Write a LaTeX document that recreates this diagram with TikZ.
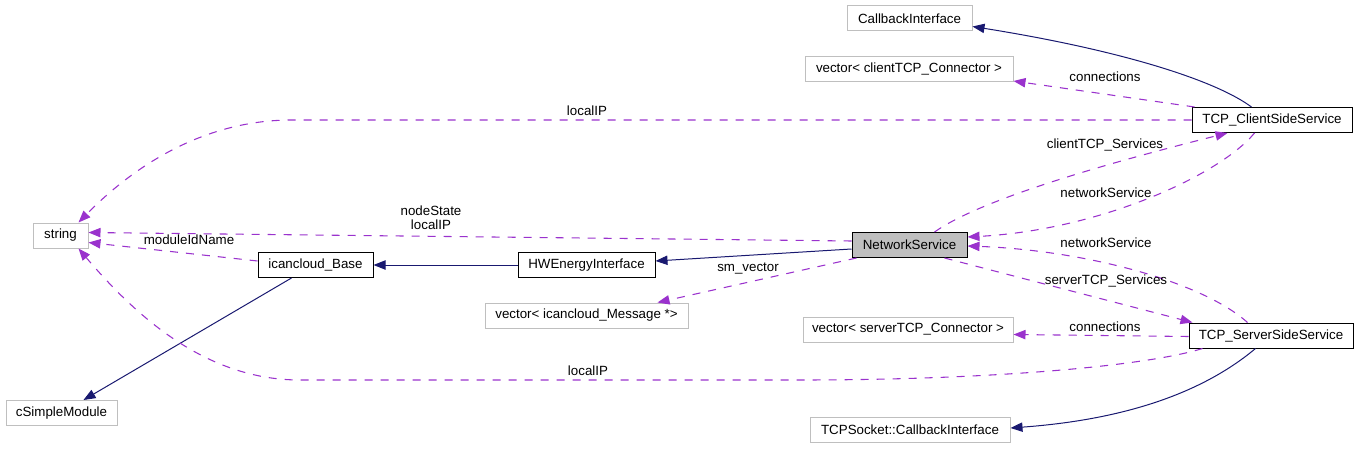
\documentclass[tikz,border=0pt]{standalone}
\usepackage{fontspec}
\setmainfont{Liberation Sans}
\usetikzlibrary{arrows.meta,calc}
\definecolor{navyc}{HTML}{191970}
\definecolor{purp}{HTML}{9A32CD}
\definecolor{greyb}{HTML}{BFBFBF}
\tikzset{
  box/.style={draw=black, line width=0.75pt, inner sep=0pt, minimum height=18.75pt, fill=white},
  extbox/.style={box, draw=greyb},
  inh/.style={draw=navyc, line width=0.75pt, -{Triangle[length=9pt,width=7pt]}},
  use/.style={draw=purp, line width=0.8pt, dash pattern=on 6pt off 6pt, -{Triangle[length=9pt,width=7pt]}},
  lbl/.style={inner sep=0pt, align=center, font=\fontsize{10}{10.5}\selectfont}
}
\begin{document}
\begin{tikzpicture}[x=0.75pt,y=-0.75pt,font=\fontsize{10}{12}\selectfont]
\useasboundingbox (0,0) rectangle (1360,449);
% nodes
\node[extbox, minimum width=125*0.75pt] (cbi) at (909.5,18.5) {CallbackInterface};
\node[extbox, minimum width=208*0.75pt] (vcc) at (909,69) {vector< clientTCP\_Connector >};
\node[box, minimum width=160*0.75pt] (tcs) at (1272,120) {TCP\_ClientSideService};
\node[extbox, minimum width=55*0.75pt] (str) at (60.5,235.5) {string};
\node[box, fill=greyb, minimum width=115*0.75pt] (ns) at (909.5,245) {NetworkService};
\node[box, minimum width=115*0.75pt] (base) at (315.5,265) {icancloud\_Base};
\node[box, minimum width=137*0.75pt] (hw) at (586.5,265) {HWEnergyInterface};
\node[extbox, minimum width=203*0.75pt] (vim) at (586.5,315.5) {vector< icancloud\_Message *>};
\node[extbox, minimum width=210*0.75pt] (vsc) at (908,329.5) {vector< serverTCP\_Connector >};
\node[box, minimum width=164*0.75pt] (tss) at (1271,335.5) {TCP\_ServerSideService};
\node[extbox, minimum width=111*0.75pt] (csm) at (61.5,413) {cSimpleModule};
\node[extbox, minimum width=200*0.75pt] (tcb) at (910,430) {TCPSocket::CallbackInterface};
% connectors
\draw[inh] ($(tcs.north west)+(60,0)$) .. controls (1215,80) and (1120,50) .. ($(cbi.south east)+(0,-5)$);
\draw[use] ($(tcs.north west)+(3,0)$) -- ($(vcc.south east)+(0,-1)$);
\draw[use] (tcs.west) -- (292,120) .. controls (200,120) and (130,170) .. ($(str.north east)+(-10,0)$);
\draw[use] ($(ns.north)+(25,0)$) .. controls (980,200) and (1100,165) .. ($(tcs.south west)+(36,0)$);
\draw[use] ($(tcs.south west)+(63,0)$) .. controls (1220,175) and (1100,230) .. ($(ns.north east)+(0,5)$);
\draw[use] ($(ns.west)+(0,-4)$) -- ($(str.east)+(0,-3)$);
\draw[use] ($(base.west)+(0,-4)$) -- ($(str.east)+(0,7)$);
\draw[inh] ($(base.south west)+(34,0)$) -- ($(csm.north)+(22,0)$);
\draw[inh] (hw.west) -- (base.east);
\draw[inh] ($(ns.west)+(0,4)$) -- ($(hw.east)+(0,-4)$);
\draw[use] ($(ns.south west)+(5,0)$) -- ($(vim.north east)+(-31,0)$);
\draw[use] ($(tss.north west)+(59,0)$) .. controls (1200,280) and (1080,250) .. ($(ns.south east)+(0,-12)$);
\draw[use] ($(ns.south)+(35,0)$) -- ($(tss.north west)+(4,0)$);
\draw[use] ($(tss.west)+(0,1)$) -- ($(vsc.east)+(0,5)$);
\draw[use] ($(tss.south west)+(14,0)$) .. controls (1150,365) and (1000,380) .. (800,380) -- (300,380) .. controls (205,380) and (135,315) .. ($(str.south east)+(-10,0)$);
\draw[inh] ($(tss.south west)+(67,0)$) .. controls (1200,395) and (1120,420) .. ($(tcb.east)+(0,-2)$);
% labels
\node[lbl] (l1) at (1105,77) {connections};
\node[lbl] (l2) at (587,111) {localIP};
\node[lbl] (l3) at (1105,145) {clientTCP\_Services};
\node[lbl] (l4) at (1106,193) {networkService};
\node[lbl] (l5) at (431,218) {nodeState\\localIP};
\node[lbl] (l6) at (189,240) {moduleIdName};
\node[lbl] (l7) at (748,269) {sm\_vector};
\node[lbl] (l8) at (1106,243) {networkService};
\node[lbl] (l9) at (1106,281) {serverTCP\_Services};
\node[lbl] (l10) at (1105,327) {connections};
\node[lbl] (l11) at (588,371) {localIP};
\end{tikzpicture}
\end{document}
